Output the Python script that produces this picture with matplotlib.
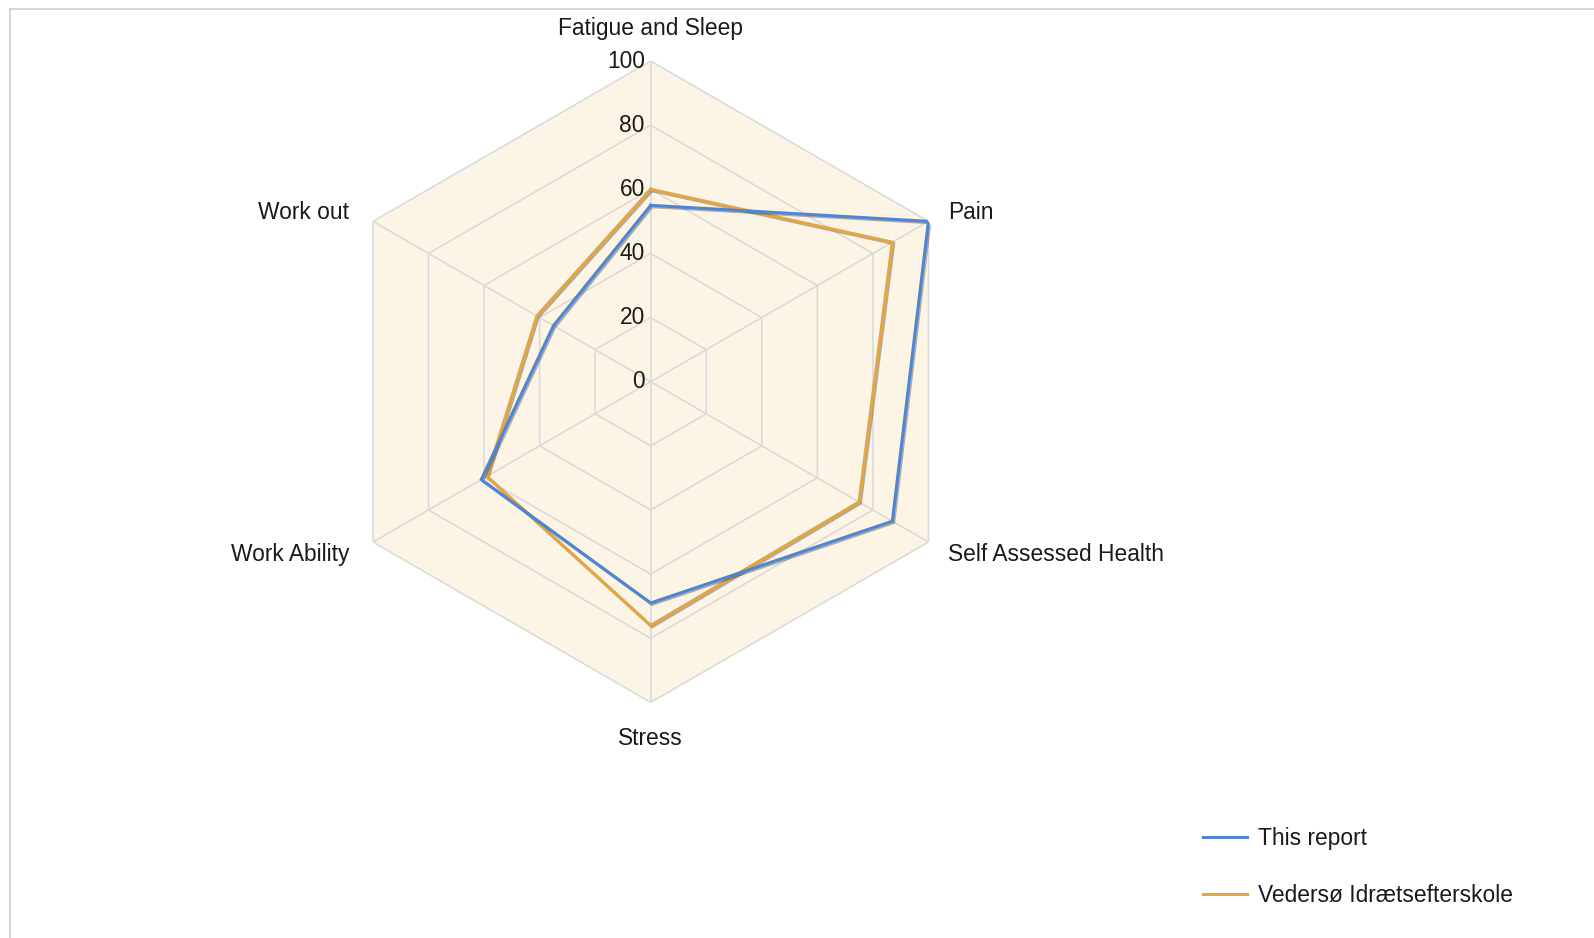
import numpy as np
import matplotlib
matplotlib.use("Agg")
import matplotlib.pyplot as plt
from matplotlib.lines import Line2D
import matplotlib.patheffects as pe

categories = ["Fatigue and Sleep", "Pain", "Self Assessed Health", "Stress", "Work Ability", "Work out"]
this_report = [55, 100, 87, 69, 61, 35]
vedersoe = [60, 87, 75, 76, 59, 41]
series_names = ["This report", "Vedersø Idrætsefterskole"]
r_ticks = [0, 20, 40, 60, 80, 100]

plt.rcParams['font.family'] = ['Liberation Sans', 'DejaVu Sans']
TXT = '#1a1a1a'
FS = 16.4

W, H = 1594, 938
fig = plt.figure(figsize=(W / 100, H / 100), dpi=100)
cx, cy, R = 650.7, 381.7, 320.7
ax = fig.add_axes([(cx - R) / W, (H - cy - R) / H, 2 * R / W, 2 * R / H], projection='polar')
ax.set_theta_offset(np.pi / 2)
ax.set_theta_direction(-1)
ax.set_ylim(0, 100)
ax.set_xticks([])
ax.set_yticks([])
ax.grid(False)
ax.spines['polar'].set_visible(False)
ax.patch.set_visible(False)

n = len(categories)
theta = np.arange(n) * 2 * np.pi / n
theta_c = np.append(theta, theta[0])

# background hexagon
ax.fill(theta_c, [100] * (n + 1), color='#fcf4e5', zorder=0, lw=0)
gc = '#d9d9d9'
for lv in r_ticks[1:]:
    ax.plot(theta_c, [lv] * (n + 1), color=gc, lw=1.1, zorder=1)
for t in theta:
    ax.plot([t, t], [0, 100], color=gc, lw=1.1, zorder=1)

shadow = [pe.SimpleLineShadow(offset=(1, -1), alpha=0.35, shadow_color='#222222'), pe.Normal()]
l1, = ax.plot(theta_c, this_report + [this_report[0]], color='#4f86d4', lw=2.2, zorder=4,
              path_effects=shadow, solid_joinstyle='miter')
l2, = ax.plot(theta_c, vedersoe + [vedersoe[0]], color='#e3a643', lw=2.2, zorder=3,
              path_effects=shadow, solid_joinstyle='miter')

# tick labels
for lv in r_ticks:
    ax.annotate(str(lv), xy=(0, lv), xytext=(-6, 0), textcoords='offset pixels',
                ha='right', va='center', fontsize=FS, color=TXT)

# category labels
offsets = [(0, 33, 'center', 'center'), (20, 9, 'left', 'center'), (20, -12, 'left', 'center'),
           (0, -36, 'center', 'center'), (-24, -12, 'right', 'center'), (-24, 9, 'right', 'center')]
for t, lab, (dx, dy, ha, va) in zip(theta, categories, offsets):
    ax.annotate(lab, xy=(t, 100), xytext=(dx, dy), textcoords='offset pixels',
                ha=ha, va=va, fontsize=FS, color=TXT, annotation_clip=False)

leg = fig.legend([l1, l2], series_names, loc='upper left',
                 bbox_to_anchor=(1194 / W, 1 - 818 / H), frameon=False, fontsize=FS,
                 handlelength=1.92, handletextpad=0.49, labelspacing=1.48, borderaxespad=0)
for t in leg.get_texts():
    t.set_color(TXT)
for h in leg.legend_handles:
    h.set_path_effects([])

# chart border (top and left)
bc = '#cfcfcf'
fig.add_artist(Line2D([10 / W, 1], [1 - 9 / H, 1 - 9 / H], color=bc, lw=1.2, transform=fig.transFigure))
fig.add_artist(Line2D([10 / W, 10 / W], [0, 1 - 9 / H], color=bc, lw=1.2, transform=fig.transFigure))

fig.savefig('out.png', dpi=100, facecolor='white')
